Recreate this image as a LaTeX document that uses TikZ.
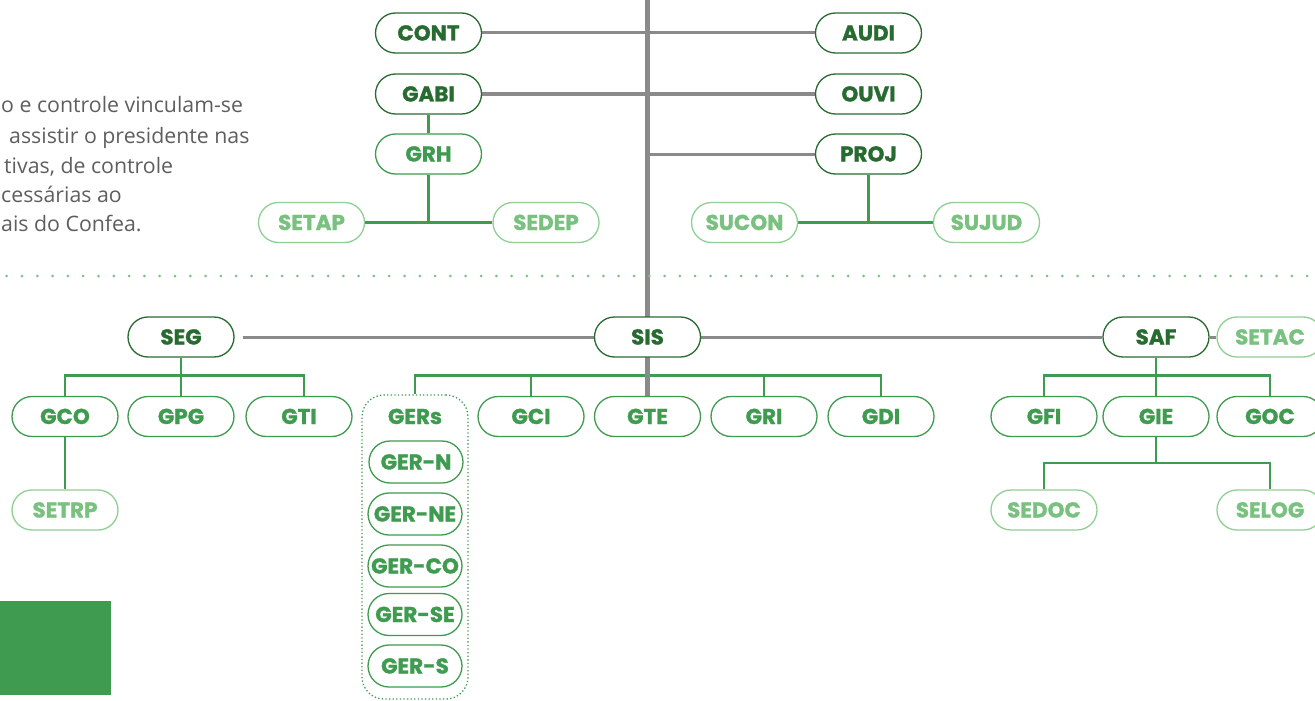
\documentclass[tikz,border=0pt]{standalone}
\usepackage{fontspec}
\newfontfamily\labfont{Poppins}[BoldFeatures={FakeBold=1.2}]
\newfontfamily\bodyfont{Open Sans}
\usetikzlibrary{backgrounds}
\definecolor{dkgreen}{HTML}{276B30}
\definecolor{mdgreen}{HTML}{3E9B4F}
\definecolor{ltgreen}{HTML}{79C17F}
\definecolor{ltborder}{HTML}{8FCF93}
\definecolor{linegray}{HTML}{8A8A8A}
\definecolor{bodygray}{HTML}{5E5E5E}
\definecolor{dotgreen}{HTML}{7CC283}
\begin{document}
\begin{tikzpicture}[x=1pt,y=-1pt,
  pill/.style={draw, fill=white, rounded corners=20pt, minimum width=106pt,
    minimum height=40pt, inner sep=0pt, line width=1.3pt,
    font=\labfont\bfseries\fontsize{21.5}{21.5}\selectfont,
    text height=15pt, text depth=0pt},
  unitA/.style={pill, draw=dkgreen, text=dkgreen},
  unitB/.style={pill, draw=mdgreen, text=mdgreen},
  unitC/.style={pill, draw=ltborder, text=ltgreen},
  gerpill/.style={unitB, minimum width=94pt, minimum height=42pt, rounded corners=21pt},
  grayline/.style={draw=linegray, line width=3pt},
  trunk/.style={draw=linegray, line width=4.5pt},
  greenline/.style={draw=mdgreen, line width=2.6pt},
  bodytext/.style={anchor=base west, inner sep=0pt,
    font=\bodyfont\fontsize{21.3}{21.3}\selectfont, text=bodygray}]
\useasboundingbox (0,0) rectangle (1315,701);

% introductory text
\node[bodytext] (t1) at (1,113) {o e controle vinculam-se};
\node[bodytext] (t2) at (9,143) {assistir o presidente nas};
\node[bodytext] (t3) at (4,173) {tivas, de controle};
\node[bodytext] (t4) at (1,202) {cessárias ao};
\node[bodytext] (t5) at (1,231) {ais do Confea.};

% upper block: advisory units
\coordinate (top) at (647.5,0);
\node[unitA] (cont) at (428.5,33) {CONT};
\node[unitA] (audi) at (868.5,33) {AUDI};
\node[unitA] (gabi) at (428.5,94) {GABI};
\node[unitA] (ouvi) at (868.5,94) {OUVI};
\node[unitB] (grh) at (428.5,154) {GRH};
\node[unitA] (proj) at (868.5,154) {PROJ};
\node[unitC] (setap) at (311.5,222.5) {SETAP};
\node[unitC] (sedep) at (546,222.5) {SEDEP};
\node[unitC] (sucon) at (744.5,222.5) {SUCON};
\node[unitC] (sujud) at (986.5,222.5) {SUJUD};

% separator
\coordinate (sepL) at (6.7,276);
\coordinate (sepR) at (1315,276);
\draw[dotgreen, line width=3pt, line cap=round, dash pattern=on 0pt off 15.3pt] (sepL) -- (sepR);

% lower block: superintendencies
\node[unitA] (seg) at (181,337) {SEG};
\node[unitA] (sis) at (647.5,337) {SIS};
\node[unitA] (saf) at (1156,337) {SAF};
\node[unitC] (setac) at (1270,337) {SETAC};

\node[unitB] (gco) at (65,416.5) {GCO};
\node[unitB] (gpg) at (181,416.5) {GPG};
\node[unitB] (gti) at (299,416.5) {GTI};
\node[unitB] (gci) at (531,416.5) {GCI};
\node[unitB] (gte) at (647.5,416.5) {GTE};
\node[unitB] (gri) at (764,416.5) {GRI};
\node[unitB] (gdi) at (881,416.5) {GDI};
\node[unitB] (gfi) at (1044,416.5) {GFI};
\node[unitB] (gie) at (1156,416.5) {GIE};
\node[unitB] (goc) at (1270,416.5) {GOC};

\node[unitC] (setrp) at (65,510) {SETRP};
\node[unitC] (sedoc) at (1044,510) {SEDOC};
\node[unitC] (selog) at (1270,510) {SELOG};

% regional managements group
\node[draw=mdgreen, line width=1.3pt, dash pattern=on 1.3pt off 2.3pt,
      rounded corners=22pt, minimum width=106pt, minimum height=304pt, inner sep=0pt]
      (gers) at (415,547) {};
\node[text=mdgreen, inner sep=0pt, font=\labfont\bfseries\fontsize{21.5}{21.5}\selectfont,
      text height=15pt, text depth=0pt] (gerslabel) at (415,416.5) {GERs};
\node[gerpill] (gern) at (416,462) {GER-N};
\node[gerpill] (gerne) at (415,514) {GER-NE};
\node[gerpill] (gerco) at (415,566) {GER-CO};
\node[gerpill] (gerse) at (415,614.5) {GER-SE};
\node[gerpill] (gers5) at (415,666) {GER-S};

% corner block
\fill[mdgreen] (0,601) rectangle (111,695);

\begin{pgfonlayer}{background}
  \coordinate (busA) at (0,375.5);
  \coordinate (busB) at (0,463);
  \coordinate (gtitap) at ([xshift=5pt]gti.north);
  % green links
  \draw[greenline] (gabi) -- (grh);
  \draw[greenline] (grh.south) -- (grh.south |- setap);
  \draw[greenline] (setap.east) -- (sedep.west);
  \draw[greenline] (proj.south) -- (proj.south |- sucon);
  \draw[greenline] (sucon.east) -- (sujud.west);

  \draw[greenline] (seg.south) -- (gpg.north);
  \draw[greenline] (gco.north) -- (gco.north |- busA) -- (gtitap |- busA) -- (gtitap);
  \draw[greenline] (gco.south) -- (setrp.north);

  \draw[greenline] (gers.north) -- (gers.north |- busA) -- (gdi.north |- busA) -- (gdi.north);
  \draw[greenline] (gci.north) -- (gci.north |- busA);
  \draw[greenline] (gri.north) -- (gri.north |- busA);

  \draw[greenline] (saf.south) -- (gie.north);
  \draw[greenline] (gfi.north) -- (gfi.north |- busA) -- (goc.north |- busA) -- (goc.north);
  \draw[greenline] (gie.south) -- (gie.south |- busB);
  \draw[greenline] (sedoc.north) -- (sedoc.north |- busB) -- (selog.north |- busB) -- (selog.north);

  % gray links
  \draw[grayline] (cont) -- (audi);
  \draw[grayline] (gabi) -- (ouvi);
  \draw[grayline] (top |- proj) -- (proj.west);
  \draw[grayline] ([xshift=8pt]seg.east) -- (sis.west);
  \draw[grayline] (sis.east) -- (saf.west);
  \draw[grayline] (saf.east) -- (setac.west);
  \draw[trunk] (top) -- (top |- gte.north);
\end{pgfonlayer}
\end{tikzpicture}
\end{document}
